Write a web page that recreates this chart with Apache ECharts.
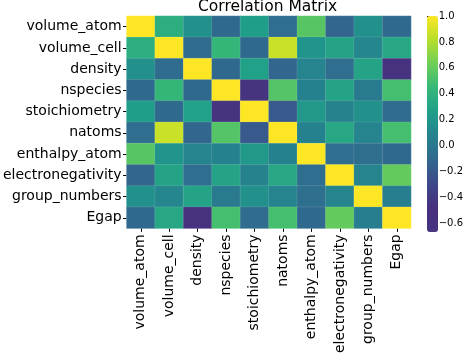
<!DOCTYPE html>
<html>
<head>
<meta charset="utf-8">
<script src="https://cdn.jsdelivr.net/npm/echarts@6/dist/echarts.min.js"></script>
<style>
  html, body { margin: 0; padding: 0; background: #fff; }
  #chart { width: 466px; height: 356px; }
</style>
</head>
<body>
<div id="chart"></div>
<script>
// feature names (same order on both axes)
var features = ['volume_atom', 'volume_cell', 'density', 'nspecies', 'stoichiometry',
  'natoms', 'enthalpy_atom', 'electronegativity', 'group_numbers', 'Egap'];

// correlation values, one row per feature
var rowVolumeAtom = [1, 0.38, 0.17, -0.1, 0.26, -0.07, 0.56, -0.12, 0.17, -0.1];
var rowVolumeCell = [0.38, 1, -0.08, 0.44, -0.1, 0.87, 0.2, 0.3, 0.1, 0.33];
var rowDensity = [0.17, -0.08, 1, -0.1, 0.28, -0.12, 0.09, -0.07, 0.3, -0.58];
var rowNspecies = [-0.1, 0.44, -0.1, 1, -0.665, 0.55, 0.07, 0.3, 0.02, 0.5];
var rowStoich = [0.26, -0.1, 0.28, -0.665, 1, -0.2, 0.22, 0.08, 0.17, -0.08];
var rowNatoms = [-0.07, 0.87, -0.12, 0.55, -0.2, 1, 0.07, 0.33, 0.09, 0.5];
var rowEnthalpy = [0.56, 0.2, 0.09, 0.07, 0.22, 0.07, 1, -0.07, -0.06, -0.1];
var rowElectroneg = [-0.12, 0.3, -0.07, 0.3, 0.08, 0.33, -0.07, 1, 0.09, 0.6];
var rowGroupNum = [0.17, 0.1, 0.3, 0.02, 0.17, 0.09, -0.06, 0.09, 1, 0.05];
var rowEgap = [-0.1, 0.33, -0.58, 0.5, -0.08, 0.5, -0.1, 0.6, 0.05, 1];

var matrix = [rowVolumeAtom, rowVolumeCell, rowDensity, rowNspecies, rowStoich,
  rowNatoms, rowEnthalpy, rowElectroneg, rowGroupNum, rowEgap];

// colour bar ticks
var colorbarTicks = [-0.6, -0.4, -0.2, 0.0, 0.2, 0.4, 0.6, 0.8, 1.0];
var vMin = -0.665, vMax = 1.0;

var viridis = ['#463480', '#472f7d', '#3e4989', '#31688e', '#26828e',
  '#1f9e89', '#35b779', '#6ece58', '#b5de2b', '#fde725'];

var cells = [];
for (var i = 0; i < matrix.length; i++) {
  for (var j = 0; j < matrix[i].length; j++) {
    cells.push([j, i, matrix[i][j]]);
  }
}

var font = 'DejaVu Sans';
var chart = echarts.init(document.getElementById('chart'));
var option = {
  animation: false,
  backgroundColor: '#fff',
  title: {
    text: 'Correlation Matrix',
    left: 198,
    top: -1,
    padding: 0,
    textStyle: { fontFamily: font, fontSize: 15.5, fontWeight: 'normal', color: '#000' }
  },
  grid: [
    { left: 124, top: 16, width: 287, height: 216 },
    { left: 427, top: 16, width: 11, height: 216 }
  ],
  xAxis: [
    {
      type: 'category', gridIndex: 0, data: features, position: 'bottom',
      axisLine: { show: false },
      axisTick: { show: true, length: 3.5, alignWithLabel: true, lineStyle: { color: '#000' } },
      axisLabel: { rotate: 90, margin: 6, interval: 0, fontFamily: font, fontSize: 14, color: '#000' },
      splitLine: { show: false }
    },
    { type: 'value', gridIndex: 1, show: false, min: 0, max: 1 }
  ],
  yAxis: [
    {
      type: 'category', gridIndex: 0, data: features, inverse: true,
      axisLine: { show: false },
      axisTick: { show: true, length: 3.5, alignWithLabel: true, lineStyle: { color: '#000' } },
      axisLabel: { margin: 5, interval: 0, fontFamily: font, fontSize: 14, color: '#000' },
      splitLine: { show: false }
    },
    {
      type: 'value', gridIndex: 1, position: 'right', min: vMin, max: vMax,
      axisLine: { show: false },
      splitLine: { show: false },
      axisTick: { show: true, length: 3.5, customValues: colorbarTicks, lineStyle: { color: '#000' } },
      axisLabel: {
        margin: 4, fontFamily: font, fontSize: 10, color: '#000',
        customValues: colorbarTicks,
        formatter: function (v) {
          return (v < 0 ? '\u2212' : '') + Math.abs(v).toFixed(1);
        }
      }
    }
  ],
  visualMap: {
    type: 'continuous',
    seriesIndex: 0,
    min: vMin,
    max: vMax,
    calculable: false,
    orient: 'vertical',
    left: 427,
    top: 16,
    padding: 0,
    itemWidth: 11,
    itemHeight: 216,
    text: null,
    inRange: { color: viridis }
  },
  series: [
    {
      type: 'heatmap',
      xAxisIndex: 0,
      yAxisIndex: 0,
      data: cells,
      itemStyle: { borderColor: 'rgba(255,255,255,0.2)', borderWidth: 0.6 },
      emphasis: { disabled: true }
    },
    { type: 'line', xAxisIndex: 1, yAxisIndex: 1, data: [], silent: true }
  ]
};
chart.setOption(option);
</script>
</body>
</html>
